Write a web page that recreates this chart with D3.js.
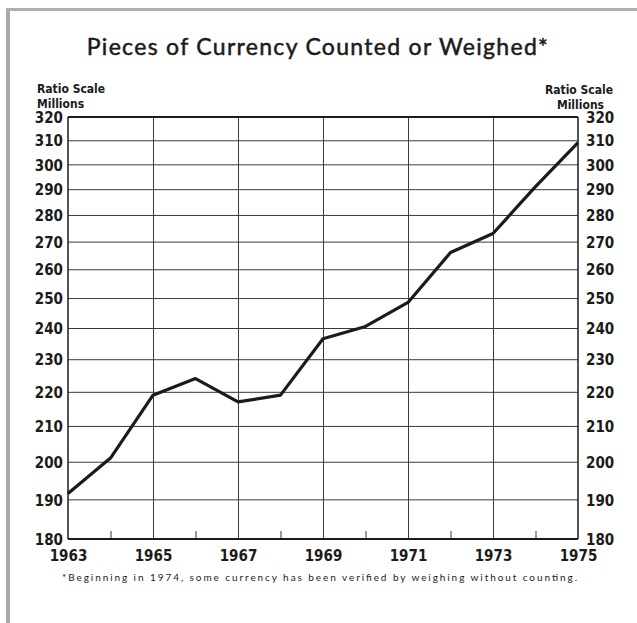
<!DOCTYPE html>
<html>
<head>
<meta charset="utf-8">
<script src="https://cdn.jsdelivr.net/npm/d3@7"></script>
<style>
  body { margin: 0; background: #fff; }
  svg { display: block; }
</style>
</head>
<body>
<div id="chart"></div>
<script>
// data
const years = [1963, 1964, 1965, 1966, 1967, 1968, 1969, 1970, 1971, 1972, 1973, 1974, 1975];
const pieces = [191.5, 201, 219, 224, 217, 219, 236.5, 240.5, 248.5, 266, 273, 291, 309];
const yTicks = [180, 190, 200, 210, 220, 230, 240, 250, 260, 270, 280, 290, 300, 310, 320];
const gridYears = [1965, 1967, 1969, 1971, 1973];
const minorYears = [1964, 1966, 1968, 1970, 1972, 1974];
const yearLabels = [1963, 1965, 1967, 1969, 1971, 1973, 1975];
const title = "Pieces of Currency Counted or Weighed*";
const footnote = "*Beginning in 1974, some currency has been verified by weighing without counting.";

const width = 637, height = 623;
const marginLeft = 68, marginRight = 59, marginTop = 117, marginBottom = 84;
const ink = "#1b1b1b";
const numFont = "'DejaVu Sans Condensed', 'Liberation Sans Narrow', sans-serif";

const x = d3.scaleLinear([1963, 1975], [marginLeft, width - marginRight]);
const y = d3.scaleLog([180, 320], [height - marginBottom, marginTop]);

const svg = d3.select("#chart").append("svg")
    .attr("width", width)
    .attr("height", height)
    .attr("viewBox", [0, 0, width, height]);

// page edge (scanned frame)
svg.append("rect").attr("x", 6).attr("y", 8).attr("width", 4).attr("height", height - 8).attr("fill", "#a8a8a8");
svg.append("rect").attr("x", 6).attr("y", 8).attr("width", width - 6).attr("height", 3).attr("fill", "#b0b0b0");

// title
svg.append("text")
    .attr("x", 318)
    .attr("y", 55)
    .attr("text-anchor", "middle")
    .attr("font-family", "Lato, 'DejaVu Sans', sans-serif")
    .attr("font-size", 23)
    .attr("letter-spacing", 1.3)
    .attr("fill", ink)
    .attr("stroke", ink)
    .attr("stroke-width", 0.5)
    .text(title);

// axis headings
const head = svg.append("g")
    .attr("font-family", numFont)
    .attr("font-weight", "bold")
    .attr("font-size", 12)
    .attr("fill", ink);
head.append("text").attr("x", 37).attr("y", 93).text("Ratio Scale");
head.append("text").attr("x", 37).attr("y", 108).text("Millions");
head.append("text").attr("x", 613).attr("y", 94).attr("text-anchor", "end").text("Ratio Scale");
head.append("text").attr("x", 604).attr("y", 109).attr("text-anchor", "end").text("Millions");

// horizontal grid
svg.append("g")
    .attr("transform", `translate(${marginLeft},0)`)
    .call(d3.axisLeft(y).tickValues(yTicks.slice(1, -1)).tickSize(-(width - marginLeft - marginRight)).tickFormat(""))
    .call(g => g.select(".domain").remove())
    .call(g => g.selectAll("line").attr("stroke", "#3a3a3a").attr("stroke-width", 1));

// vertical grid
svg.append("g")
    .attr("transform", `translate(0,${height - marginBottom})`)
    .call(d3.axisBottom(x).tickValues(gridYears).tickSize(-(height - marginTop - marginBottom)).tickFormat(""))
    .call(g => g.select(".domain").remove())
    .call(g => g.selectAll("line").attr("stroke", "#3a3a3a").attr("stroke-width", 1));

// short ticks at the even years
svg.append("g")
    .attr("transform", `translate(0,${height - marginBottom})`)
    .call(d3.axisBottom(x).tickValues(minorYears).tickSize(-8).tickFormat(""))
    .call(g => g.select(".domain").remove())
    .call(g => g.selectAll("line").attr("stroke", "#3a3a3a").attr("stroke-width", 1));

// frame
const [x0, x1] = x.range(), [y1, y0] = y.range();
svg.append("line").attr("x1", x0).attr("x2", x1).attr("y1", y0).attr("y2", y0).attr("stroke", ink).attr("stroke-width", 2.2);
svg.append("line").attr("x1", x0).attr("x2", x1).attr("y1", y1).attr("y2", y1).attr("stroke", ink).attr("stroke-width", 2.2);
svg.append("line").attr("x1", x0).attr("x2", x0).attr("y1", y0).attr("y2", y1).attr("stroke", ink).attr("stroke-width", 1.5);
svg.append("line").attr("x1", x1).attr("x2", x1).attr("y1", y0).attr("y2", y1).attr("stroke", ink).attr("stroke-width", 1.5);

// tick labels, both sides
const tickLabels = (axis, dx) => g => g
    .call(axis(y).tickValues(yTicks).tickSize(0).tickPadding(dx).tickFormat(d3.format("d")))
    .call(g => g.select(".domain").remove())
    .call(g => g.selectAll("text")
        .attr("font-family", numFont)
        .attr("font-weight", "bold")
        .attr("font-size", 15)
        .attr("fill", ink)
        .attr("dy", "0.38em"));

svg.append("g").attr("transform", `translate(${x0},0)`).call(tickLabels(d3.axisLeft, 5));
svg.append("g").attr("transform", `translate(${x1},0)`).call(tickLabels(d3.axisRight, 8));

svg.append("g")
    .attr("transform", `translate(0,${y1})`)
    .call(d3.axisBottom(x).tickValues(yearLabels).tickSize(0).tickPadding(11).tickFormat(d3.format("d")))
    .call(g => g.select(".domain").remove())
    .call(g => g.selectAll("text")
        .attr("font-family", numFont)
        .attr("font-weight", "bold")
        .attr("font-size", 15)
        .attr("fill", ink));

// the series
const line = d3.line()
    .x((d, i) => x(years[i]))
    .y(d => y(d));

svg.append("path")
    .datum(pieces)
    .attr("fill", "none")
    .attr("stroke", ink)
    .attr("stroke-width", 3.2)
    .attr("stroke-linejoin", "round")
    .attr("d", line);

// footnote
svg.append("text")
    .attr("x", 62)
    .attr("y", 581)
    .attr("textLength", 515)
    .attr("lengthAdjust", "spacing")
    .attr("font-family", "Lato, 'DejaVu Sans', sans-serif")
    .attr("font-size", 10)
    .attr("fill", ink)
    .text(footnote);
</script>
</body>
</html>
